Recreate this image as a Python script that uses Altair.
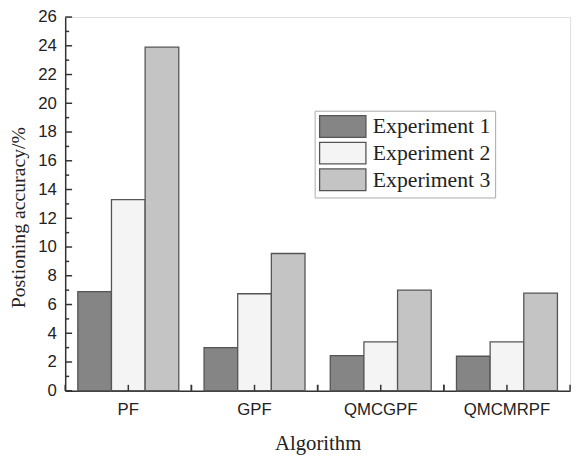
import altair as alt
import pandas as pd

algorithms = ["PF", "GPF", "QMCGPF", "QMCMRPF"]
experiments = ["Experiment 1", "Experiment 2", "Experiment 3"]
exp1 = [6.9, 3.0, 2.45, 2.4]
exp2 = [13.3, 6.75, 3.4, 3.4]
exp3 = [23.9, 9.55, 7.0, 6.8]
y_major = list(range(0, 27, 2))
y_minor = list(range(1, 26, 2))
fills = ["#858585", "#f4f4f4", "#c4c4c4"]

rows = []
for i, a in enumerate(algorithms):
    for e, vals in zip(experiments, [exp1, exp2, exp3]):
        rows.append({"Algorithm": a, "Experiment": e, "value": vals[i]})
df = pd.DataFrame(rows)
alg_df = pd.DataFrame({"Algorithm": algorithms})
major_df = pd.DataFrame({"value": y_major})
minor_df = pd.DataFrame({"value": y_minor})

W, H = 512, 379
xscale = alt.Scale(domain=algorithms, paddingInner=0.2, paddingOuter=0.1)
yscale = alt.Scale(domain=[0, 26], nice=False)

xaxis = alt.Axis(title="Algorithm", labelAngle=0, ticks=False,
                 labelFont="Liberation Sans", labelFontSize=17,
                 labelColor="#222", labelPadding=11,
                 titleFont="Liberation Serif", titleFontSize=21,
                 titleFontWeight="normal", titleColor="#222",
                 titlePadding=16, domainColor="#333", domainWidth=1.5)
yaxis = alt.Axis(title="Postioning accuracy/%", values=y_major,
                 ticks=False, grid=False, labelOverlap=False,
                 labelFont="Liberation Sans", labelFontSize=17,
                 labelColor="#222", labelPadding=9,
                 titleFont="Liberation Serif", titleFontSize=20,
                 titleFontWeight="normal", titleColor="#222",
                 titlePadding=9, titleY=203, domainColor="#333",
                 domainWidth=1.5)

X = alt.X("Algorithm:N", scale=xscale, sort=algorithms, axis=xaxis)
Y = alt.Y("value:Q", scale=yscale, axis=yaxis)

bars = alt.Chart(df).mark_bar(stroke="#555555", strokeWidth=1.3).encode(
    x=X,
    xOffset=alt.XOffset("Experiment:N", sort=experiments),
    y=Y,
    color=alt.Color("Experiment:N", sort=experiments,
                    scale=alt.Scale(domain=experiments, range=fills),
                    legend=alt.Legend(
                        title=None, orient="none", legendX=253, legendY=95,
                        symbolType="M-1,-1H3.27V1H-1Z", symbolSize=484,
                        symbolStrokeColor="#555555", symbolStrokeWidth=1.3,
                        labelFont="Liberation Serif", labelFontSize=22,
                        labelColor="#222", labelOffset=31, rowPadding=-1,
                        padding=4, strokeColor="#aaaaaa",
                        fillColor="white", labelLimit=300)),
)

ytick_major = alt.Chart(major_df).mark_rule(color="#333", strokeWidth=1.5).encode(
    y=Y, x=alt.value(0), x2=alt.value(7))
ytick_minor = alt.Chart(minor_df).mark_rule(color="#333", strokeWidth=1.5).encode(
    y=Y, x=alt.value(0), x2=alt.value(4))
xtick_center = alt.Chart(alg_df).mark_rule(color="#333", strokeWidth=1.5).encode(
    x=X, y=alt.value(H), y2=alt.value(H - 6))
xtick_left = alt.Chart(alg_df).mark_rule(color="#333", strokeWidth=1.5, xOffset=-64).encode(
    x=X, y=alt.value(H), y2=alt.value(H - 6))
xtick_right = alt.Chart(alg_df).mark_rule(color="#333", strokeWidth=1.5, xOffset=64).encode(
    x=X, y=alt.value(H), y2=alt.value(H - 6))

chart = alt.layer(bars, ytick_major, ytick_minor, xtick_center, xtick_left, xtick_right).properties(
    width=W, height=H,
    autosize=alt.AutoSizeParams(type="none"),
    padding={"left": 58, "top": 6, "right": 5, "bottom": 63},
).configure_view(stroke=None).configure(background="white")

chart.save("out.html", embed_options={"renderer": "svg", "actions": False})
